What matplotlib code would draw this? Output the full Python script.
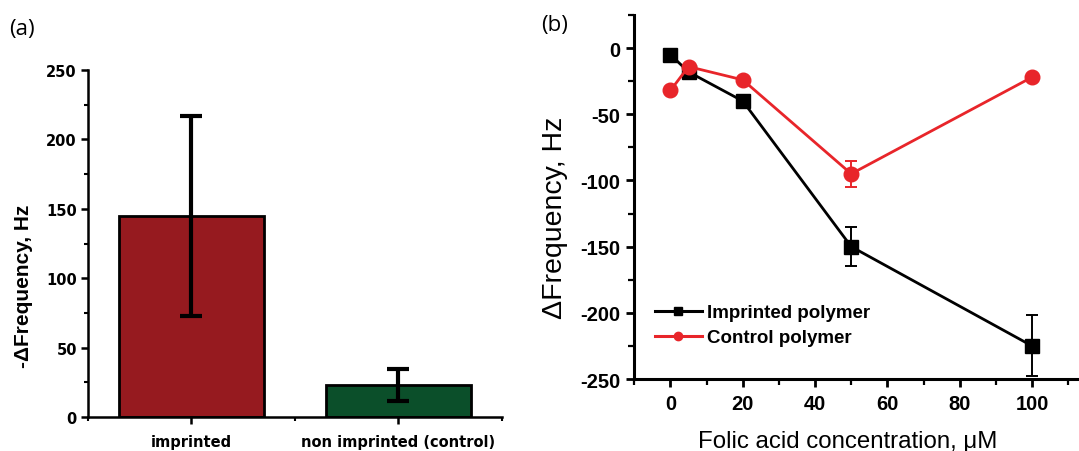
import matplotlib
matplotlib.use("Agg")
import matplotlib.pyplot as plt
from matplotlib.lines import Line2D
from matplotlib.ticker import MultipleLocator

plt.rcParams["axes.unicode_minus"] = False

# Panel (a): frequency shift of the two polymer films
categories = ["imprinted", "non imprinted (control)"]
response = [145, 23]
response_err = [72, 11.5]
bar_colors = ["#961a1f", "#0b4f2a"]

# Panel (b): frequency shift versus folic acid concentration
conc = [0, 5, 20, 50, 100]
imprinted = [-5, -18, -40, -150, -225]
imprinted_err = [0, 0, 0, 15, 23]
control = [-32, -14, -24, -95, -22]
control_err = [0, 0, 0, 10, 0]
x_ticks = [0, 20, 40, 60, 80, 100]
y_ticks = [0, -50, -100, -150, -200, -250]

W, H = 1079, 452
fig = plt.figure(figsize=(W / 100, H / 100), dpi=100)

# ---------- panel (a) ----------
axa = fig.add_axes([88 / W, 1 - 418 / H, (501.7 - 88) / W, (418 - 71) / H])
xpos = list(range(len(categories)))
axa.bar(xpos, response, width=0.70, color=bar_colors, edgecolor="black",
        linewidth=2, zorder=2)
axa.errorbar(xpos, response, yerr=response_err, fmt="none", ecolor="black",
             elinewidth=3, capsize=8, capthick=3, zorder=3)
axa.set_xlim(-0.5, 1.5)
axa.set_ylim(0, 250)
axa.set_xticks(xpos)
axa.set_xticklabels(categories)
axa.xaxis.set_minor_locator(MultipleLocator(0.5))
axa.yaxis.set_major_locator(MultipleLocator(50))
axa.yaxis.set_minor_locator(MultipleLocator(25))
for s in ("top", "right"):
    axa.spines[s].set_visible(False)
for s in ("left", "bottom"):
    axa.spines[s].set_linewidth(1.8)
axa.tick_params(axis="both", which="major", direction="out", length=5,
                width=1.8, labelsize=10.5)
axa.tick_params(axis="both", which="minor", direction="out", length=3, width=1.5)
axa.tick_params(axis="x", which="major", pad=7)
axa.tick_params(axis="y", which="major", pad=3)
for lab in axa.get_xticklabels() + axa.get_yticklabels():
    lab.set_fontfamily("DejaVu Sans")
    lab.set_fontweight("bold")
axa.set_ylabel("-\u0394Frequency, Hz", fontsize=15, family="Liberation Sans",
               fontweight="bold")
axa.yaxis.set_label_coords(-0.133, 0.38)

# ---------- panel (b) ----------
x0, x1 = 634.3, W
axb = fig.add_axes([x0 / W, 1 - 380 / H, (x1 - x0) / W, (380 - 16) / H])
axb.errorbar(conc, imprinted, yerr=imprinted_err, color="black", linewidth=2,
             marker="s", markersize=9.5, elinewidth=1.4, capsize=4.5,
             capthick=1.4, zorder=3, clip_on=False)
axb.errorbar(conc, control, yerr=control_err, color="#e8252a", linewidth=2,
             marker="o", markersize=10.5, elinewidth=1.4, capsize=4.5,
             capthick=1.4, ecolor="#e8252a", zorder=4, clip_on=False)
axb.set_xlim(-10, 113)
axb.set_ylim(-250, 25)
axb.set_xticks(x_ticks)
axb.set_yticks(y_ticks)
axb.xaxis.set_minor_locator(MultipleLocator(10))
axb.yaxis.set_minor_locator(MultipleLocator(25))
for s in ("top", "right"):
    axb.spines[s].set_visible(False)
for s in ("left", "bottom"):
    axb.spines[s].set_linewidth(2.2)
axb.tick_params(axis="both", which="major", direction="out", length=6,
                width=2, labelsize=14.5, pad=4)
axb.tick_params(axis="x", which="major", pad=5)
axb.tick_params(axis="both", which="minor", direction="out", length=4, width=1.6)
for lab in axb.get_xticklabels() + axb.get_yticklabels():
    lab.set_fontfamily("Liberation Sans")
    lab.set_fontweight("bold")
axb.set_ylabel("\u0394Frequency, Hz", fontsize=20.5, family="Liberation Sans")
axb.yaxis.set_label_coords(-0.149, 0.446)
axb.set_xlabel("Folic acid concentration, \u03bcM", fontsize=17.3,
               family="Liberation Sans")
axb.xaxis.set_label_coords(0.479, -0.140)

handles = [
    Line2D([], [], color="black", linewidth=2.2, marker="s", markersize=6),
    Line2D([], [], color="#e8252a", linewidth=2.2, marker="o", markersize=6),
]
axb.legend(handles, ["Imprinted polymer", "Control polymer"],
           loc="upper left", bbox_to_anchor=(0.0465, 0.206), frameon=False,
           borderpad=0, borderaxespad=0, handlelength=2.5, handletextpad=0.3,
           labelspacing=0.42,
           prop={"family": "Liberation Sans", "weight": "bold", "size": 13.5})

# panel letters
fig.text(9 / W, 1 - 29 / H, "(a)", fontsize=16, family="Open Sans",
         ha="left", va="center")
fig.text(541 / W, 1 - 26 / H, "(b)", fontsize=16, family="Open Sans",
         ha="left", va="center")

fig.savefig("out.png", dpi=100)
